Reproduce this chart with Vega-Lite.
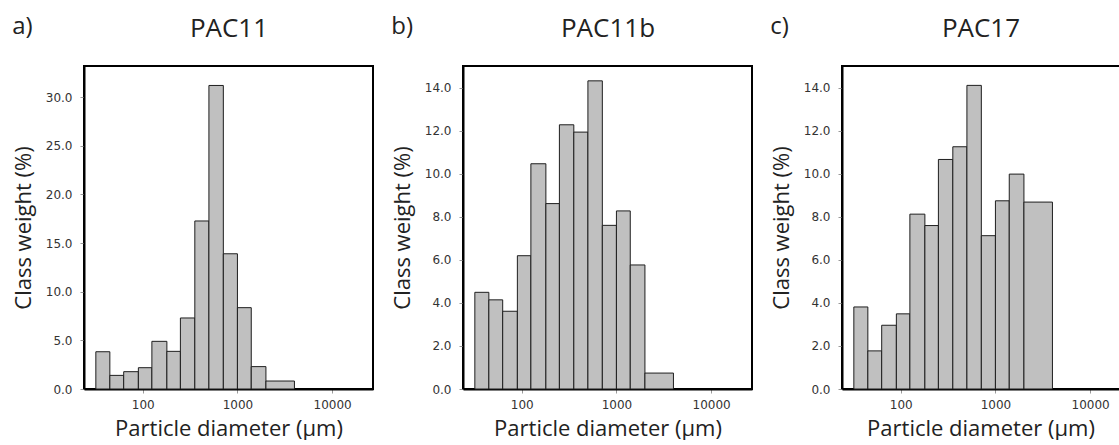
{
  "$schema": "https://vega.github.io/schema/vega-lite/v6.json",
  "padding": {"left": 11, "top": 14, "right": 0, "bottom": 0},
  "spacing": 16,
  "config": {
    "view": {"stroke": "black", "strokeWidth": 2},
    "title": {"font": "Open Sans", "fontSize": 24, "fontWeight": "normal", "color": "#222", "anchor": "start", "frame": "bounds", "offset": 0, "dy": 28},
    "axis": {"grid": false, "labelFont": "DejaVu Sans", "labelFontSize": 12, "labelColor": "#333", "tickColor": "#999", "tickSize": 4, "domainColor": "black", "domainWidth": 2, "titleFont": "Open Sans", "titleFontSize": 22, "titleFontWeight": "normal", "titleColor": "#222"},
    "bar": {"fill": "#c0c0c0", "stroke": "#1e1e1e", "strokeWidth": 1}
  },
  "hconcat": [
    {
      "width": 289, "height": 323,
      "title": {"text": "a)"},
      "data": {"values": [
        {"lo": 32, "hi": 45, "w": 3.83}, {"lo": 45, "hi": 63, "w": 1.4}, {"lo": 63, "hi": 90, "w": 1.78},
        {"lo": 90, "hi": 125, "w": 2.19}, {"lo": 125, "hi": 180, "w": 4.9}, {"lo": 180, "hi": 250, "w": 3.87},
        {"lo": 250, "hi": 355, "w": 7.3}, {"lo": 355, "hi": 500, "w": 17.27}, {"lo": 500, "hi": 710, "w": 31.2},
        {"lo": 710, "hi": 1000, "w": 13.9}, {"lo": 1000, "hi": 1400, "w": 8.36}, {"lo": 1400, "hi": 2000, "w": 2.3},
        {"lo": 2000, "hi": 4000, "w": 0.82}
      ]},
      "layer": [
        {
          "mark": {"type": "bar"},
          "encoding": {
            "x": {"field": "lo", "type": "quantitative", "scale": {"type": "log", "domain": [24, 27000], "nice": false},
                  "axis": {"orient": "bottom", "values": [100, 1000, 10000], "format": "d", "labelPadding": 6, "titlePadding": 8, "title": "Particle diameter (µm)"}},
            "x2": {"field": "hi"},
            "y": {"field": "w", "type": "quantitative", "scale": {"domain": [0, 33.2], "nice": false},
                  "axis": {"values": [0, 5, 10, 15, 20, 25, 30], "format": ".1f", "labelPadding": 8, "titlePadding": 10, "title": "Class weight (%)"}},
            "y2": {"datum": 0}
          }
        },
        {
          "mark": {"type": "bar", "opacity": 0},
          "encoding": {
            "x": {"field": "lo", "type": "quantitative", "axis": {"orient": "top", "labels": false, "ticks": false, "domain": false, "title": "PAC11", "titleFontSize": 26, "titlePadding": 25}},
            "x2": {"field": "hi"}
          }
        }
      ]
    },
    {
      "width": 289, "height": 323,
      "title": {"text": "b)"},
      "data": {"values": [
        {"lo": 32, "hi": 45, "w": 4.49}, {"lo": 45, "hi": 63, "w": 4.14}, {"lo": 63, "hi": 90, "w": 3.61},
        {"lo": 90, "hi": 125, "w": 6.19}, {"lo": 125, "hi": 180, "w": 10.46}, {"lo": 180, "hi": 250, "w": 8.61},
        {"lo": 250, "hi": 355, "w": 12.27}, {"lo": 355, "hi": 500, "w": 11.93}, {"lo": 500, "hi": 710, "w": 14.31},
        {"lo": 710, "hi": 1000, "w": 7.6}, {"lo": 1000, "hi": 1400, "w": 8.27}, {"lo": 1400, "hi": 2000, "w": 5.76},
        {"lo": 2000, "hi": 4000, "w": 0.74}
      ]},
      "layer": [
        {
          "mark": {"type": "bar"},
          "encoding": {
            "x": {"field": "lo", "type": "quantitative", "scale": {"type": "log", "domain": [24, 27000], "nice": false},
                  "axis": {"orient": "bottom", "values": [100, 1000, 10000], "format": "d", "labelPadding": 6, "titlePadding": 8, "title": "Particle diameter (µm)"}},
            "x2": {"field": "hi"},
            "y": {"field": "w", "type": "quantitative", "scale": {"domain": [0, 15], "nice": false},
                  "axis": {"values": [0, 2, 4, 6, 8, 10, 12, 14], "format": ".1f", "labelPadding": 8, "titlePadding": 10, "title": "Class weight (%)"}},
            "y2": {"datum": 0}
          }
        },
        {
          "mark": {"type": "bar", "opacity": 0},
          "encoding": {
            "x": {"field": "lo", "type": "quantitative", "axis": {"orient": "top", "labels": false, "ticks": false, "domain": false, "title": "PAC11b", "titleFontSize": 26, "titlePadding": 25}},
            "x2": {"field": "hi"}
          }
        }
      ]
    },
    {
      "width": 277, "height": 323,
      "title": {"text": "c)"},
      "view": {"stroke": "black", "strokeWidth": 2, "strokeDash": [277, 323, 700, 0]},
      "data": {"values": [
        {"lo": 32, "hi": 45, "w": 3.81}, {"lo": 45, "hi": 63, "w": 1.77}, {"lo": 63, "hi": 90, "w": 2.96},
        {"lo": 90, "hi": 125, "w": 3.49}, {"lo": 125, "hi": 180, "w": 8.12}, {"lo": 180, "hi": 250, "w": 7.59},
        {"lo": 250, "hi": 355, "w": 10.66}, {"lo": 355, "hi": 500, "w": 11.25}, {"lo": 500, "hi": 710, "w": 14.1},
        {"lo": 710, "hi": 1000, "w": 7.12}, {"lo": 1000, "hi": 1400, "w": 8.74}, {"lo": 1400, "hi": 2000, "w": 9.98},
        {"lo": 2000, "hi": 4000, "w": 8.68}
      ]},
      "layer": [
        {
          "mark": {"type": "bar"},
          "encoding": {
            "x": {"field": "lo", "type": "quantitative", "scale": {"type": "log", "domain": [24, 20170], "nice": false},
                  "axis": {"orient": "bottom", "values": [100, 1000, 10000], "format": "d", "labelPadding": 6, "titlePadding": 8, "title": "Particle diameter (µm)"}},
            "x2": {"field": "hi"},
            "y": {"field": "w", "type": "quantitative", "scale": {"domain": [0, 15], "nice": false},
                  "axis": {"values": [0, 2, 4, 6, 8, 10, 12, 14], "format": ".1f", "labelPadding": 8, "titlePadding": 10, "title": "Class weight (%)"}},
            "y2": {"datum": 0}
          }
        },
        {
          "mark": {"type": "bar", "opacity": 0},
          "encoding": {
            "x": {"field": "lo", "type": "quantitative", "axis": {"orient": "top", "labels": false, "ticks": false, "domain": false, "title": "PAC17", "titleFontSize": 26, "titlePadding": 25}},
            "x2": {"field": "hi"}
          }
        }
      ]
    }
  ]
}
